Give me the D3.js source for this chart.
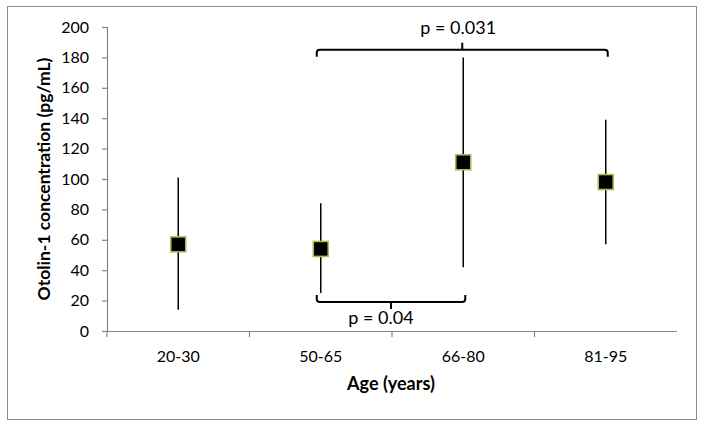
<!DOCTYPE html>
<html>
<head>
<meta charset="utf-8">
<script src="https://cdn.jsdelivr.net/npm/d3@7"></script>
<style>
	body { margin: 0; background: #fff; }
	text { font-family: Lato, "Open Sans", sans-serif; fill: #000; }
</style>
</head>
<body>
<div id="chart"></div>
<script>
var categories = ['20-30', '50-65', '66-80', '81-95'];
var means = [57, 54, 111, 98];
var lows = [14, 25, 42, 57];
var highs = [101, 84, 180, 139];
var yTicks = [0, 20, 40, 60, 80, 100, 120, 140, 160, 180, 200];
// significance brackets: from category, to category, level, label
var brackets = [
	{from: '50-65', to: '81-95', level: 185, label: 'p = 0.031', up: true},
	{from: '50-65', to: '66-80', level: 19, label: 'p = 0.04', up: false}
];

var width = 704, height = 427;
var margin = {top: 27, right: 27, bottom: 96, left: 107};

var svg = d3.select('#chart')
	.append('svg')
	.attr('width', width)
	.attr('height', height);

// outer frame
svg.append('rect')
	.attr('x', 7.5).attr('y', 6.5)
	.attr('width', 689).attr('height', 413)
	.attr('fill', 'none')
	.attr('stroke', '#8c8c8c')
	.attr('stroke-width', 1);

var x = d3.scaleBand()
	.domain(categories)
	.range([margin.left, width - margin.right]);

var y = d3.scaleLinear()
	.domain([0, 200])
	.range([height - margin.bottom, margin.top]);

var cx = function (c) { return x(c) + x.bandwidth() / 2; };

// y axis
var yAxis = svg.append('g')
	.attr('class', 'yaxis')
	.attr('transform', 'translate(' + margin.left + ',0)')
	.call(d3.axisLeft(y).tickValues(yTicks).tickSize(5).tickPadding(13));
yAxis.selectAll('text').style('font-size', '16px');

// x axis with ticks at band boundaries
var xAxis = svg.append('g')
	.attr('class', 'xaxis')
	.attr('transform', 'translate(0,' + y(0) + ')')
	.call(d3.axisBottom(x).tickSize(0).tickPadding(20));
xAxis.selectAll('text').style('font-size', '16px');
xAxis.selectAll('.tick')
	.append('line')
	.attr('x1', -x.bandwidth() / 2).attr('x2', -x.bandwidth() / 2)
	.attr('y1', 0).attr('y2', 6);
xAxis.append('line')
	.attr('x1', width - margin.right).attr('x2', width - margin.right)
	.attr('y1', 0).attr('y2', 6);

svg.selectAll('.domain, .tick line')
	.attr('stroke', '#868686')
	.attr('stroke-width', 1.2);
xAxis.select('.domain').attr('d', 'M' + margin.left + ',0.5H' + (width - margin.right));
yAxis.select('.domain').attr('d', 'M0.5,' + y(200) + 'V' + y(0));

// axis titles
svg.append('text')
	.attr('transform', 'translate(50,' + ((y(0) + y(200)) / 2) + ') rotate(-90)')
	.attr('text-anchor', 'middle')
	.style('font-size', '17.5px')
	.style('font-weight', 'bold')
	.text('Otolin-1 concentration (pg/mL)');

svg.append('text')
	.attr('x', 391).attr('y', 390)
	.attr('text-anchor', 'middle')
	.style('font-size', '18px')
	.style('font-weight', 'bold')
	.text('Age (years)');

// error bars
svg.selectAll('line.err')
	.data(categories)
	.enter()
	.append('line')
	.attr('class', 'err')
	.attr('x1', function (d) { return cx(d); })
	.attr('x2', function (d) { return cx(d); })
	.attr('y1', function (d, i) { return y(lows[i]); })
	.attr('y2', function (d, i) { return y(highs[i]); })
	.attr('stroke', '#000')
	.attr('stroke-width', 1.5);

// mean markers
var s = 15;
svg.selectAll('rect.mean')
	.data(categories)
	.enter()
	.append('rect')
	.attr('class', 'mean')
	.attr('x', function (d) { return cx(d) - s / 2; })
	.attr('y', function (d, i) { return y(means[i]) - s / 2; })
	.attr('width', s)
	.attr('height', s)
	.attr('fill', '#000')
	.attr('stroke', '#a3c15a')
	.attr('stroke-width', 1.6);

// brackets
brackets.forEach(function (b) {
	var x1 = cx(b.from) - 4, x2 = cx(b.to) + 2, yy = y(b.level);
	var d = b.up ? 1 : -1, r = 3;
	var mid = (x1 + x2) / 2;
	var path = 'M' + x1 + ',' + (yy + d * 7) +
		'V' + (yy + d * r) +
		'Q' + x1 + ',' + yy + ' ' + (x1 + r) + ',' + yy +
		'H' + (x2 - r) +
		'Q' + x2 + ',' + yy + ' ' + x2 + ',' + (yy + d * r) +
		'V' + (yy + d * 7) +
		'M' + mid + ',' + yy + 'V' + (yy - d * 7);
	svg.append('path')
		.attr('d', path)
		.attr('fill', 'none')
		.attr('stroke', '#000')
		.attr('stroke-width', 2);
	svg.append('text')
		.attr('x', b.up ? mid - 4 : mid - 10)
		.attr('y', b.up ? yy - 16 : yy + 22)
		.attr('text-anchor', 'middle')
		.style('font-size', '18px')
		.text(b.label);
});
</script>
</body>
</html>
